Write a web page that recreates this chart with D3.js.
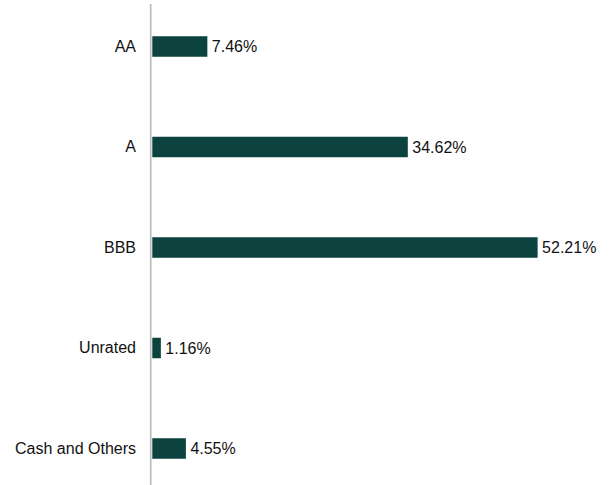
<!DOCTYPE html>
<html lang="en">
<head>
  <meta charset="UTF-8">
  <title>Credit rating breakdown</title>
  <style>
    html, body { margin: 0; background: #fff; }
    text { font-family: Arial, "Liberation Sans", sans-serif; fill: #111; }
  </style>
</head>
<body>
<svg id="chart" width="615" height="485" viewBox="0 0 615 485"></svg>
<script src="https://d3js.org/d3.v7.min.js"></script>
<script>
// ratings and their weights (%)
const ratings = ["AA", "A", "BBB", "Unrated", "Cash and Others"];
const weights = [7.46, 34.62, 52.21, 1.16, 4.55];

const svg = d3.select("#chart"),
    width = +svg.attr("width"),
    height = +svg.attr("height");

const x = d3.scaleLinear().domain([0, 60]).range([152.3, 595.1]);
const y = d3.scaleBand()
    .domain(ratings)
    .range([-3.75, 498.75])
    .paddingInner(0.796)
    .paddingOuter(0.398);

const data = ratings.map((r, i) => ({ rating: r, value: weights[i] }));

// category labels
const yAxis = d3.axisLeft(y).tickSize(0).tickPadding(14);
svg.append("g")
    .attr("transform", "translate(150,0)")
    .call(yAxis)
    .call(g => g.select(".domain").remove())
    .selectAll("text")
    .style("font-size", "16px")
    .style("font-family", "Arial, 'Liberation Sans', sans-serif")
    .attr("fill", "#111");

svg.append("g").selectAll("rect")
    .data(data)
  .enter().append("rect")
    .attr("x", x(0))
    .attr("y", d => y(d.rating))
    .attr("width", d => x(d.value) - x(0))
    .attr("height", y.bandwidth())
    .attr("fill", "#0c433f");

svg.append("g").selectAll("text")
    .data(data)
  .enter().append("text")
    .attr("x", d => x(d.value) + 4.5)
    .attr("y", d => y(d.rating) + y.bandwidth() / 2)
    .attr("dy", "0.35em")
    .style("font-size", "16px")
    .text(d => d.value.toFixed(2) + "%");

// vertical axis line
svg.append("line")
    .attr("x1", 150.7).attr("x2", 150.7)
    .attr("y1", 4).attr("y2", height)
    .attr("stroke", "#bfbfbf")
    .attr("stroke-width", 1.8);
</script>
</body>
</html>
